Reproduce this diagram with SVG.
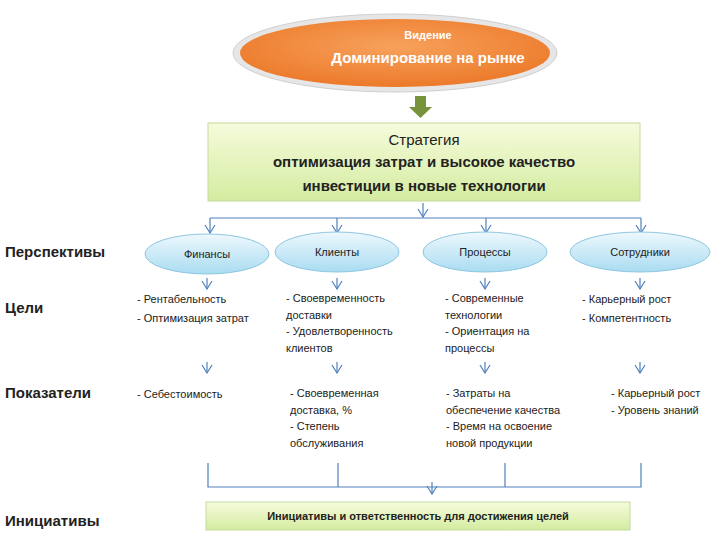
<svg xmlns="http://www.w3.org/2000/svg" width="720" height="540" viewBox="0 0 720 540">
<defs>
<radialGradient id="og" cx="50%" cy="40%" r="60%"><stop offset="0" stop-color="#f7a15c"/><stop offset="1" stop-color="#ec7a2a"/></radialGradient>
<linearGradient id="gg" x1="0" y1="0" x2="0" y2="1"><stop offset="0" stop-color="#f6fbdc"/><stop offset="1" stop-color="#d4eca0"/></linearGradient>
<linearGradient id="bg" x1="0" y1="0" x2="0" y2="1"><stop offset="0" stop-color="#eef8fd"/><stop offset="1" stop-color="#a9dcf1"/></linearGradient>
<marker id="ar" viewBox="0 0 10 12" refX="9" refY="6" markerWidth="10" markerHeight="12" markerUnits="userSpaceOnUse" orient="auto"><path d="M1,1 L9,6 L1,11" fill="none" stroke="#4f81bd" stroke-width="1.2"/></marker>
<style>
.t{font-family:"Liberation Sans",Arial,sans-serif;fill:#222}
.s{font-size:11px}
.h{font-size:15px;font-weight:bold}
.c{stroke:#4f81bd;stroke-width:1.2;fill:none}
.cm{stroke:#4f81bd;stroke-width:1.2;fill:none;marker-end:url(#ar)}
.el{fill:url(#bg);stroke:#8fc6e0;stroke-width:1}
</style>
</defs>
<g id="vision">
<ellipse cx="395" cy="53" rx="162" ry="39" fill="#e6e6e6" stroke="#cfcfcf"/>
<ellipse cx="395" cy="53" rx="155" ry="34" fill="url(#og)"/>
<text class="t" x="428" y="39" text-anchor="middle" font-size="11" font-weight="bold" style="fill:#fff">Видение</text>
<text class="t" x="428" y="63" text-anchor="middle" font-size="15" font-weight="bold" style="fill:#fff">Доминирование на рынке</text>
</g>
<g id="bigarrow"><path d="M415,96 H426 V107 H432 L420.5,118 L409,107 H415 Z" fill="#77933c"/></g>
<g id="strategy">
<rect x="208" y="123" width="432" height="78" fill="url(#gg)" stroke="#c6d9a0"/>
<text class="t" x="424" y="145" text-anchor="middle" font-size="15">Стратегия</text>
<text class="t" x="424" y="167" text-anchor="middle" font-size="15" font-weight="bold">оптимизация затрат и высокое качество</text>
<text class="t" x="424" y="191" text-anchor="middle" font-size="15" font-weight="bold">инвестиции в новые технологии</text>
</g>
<g id="labels">
<text class="t h" x="5" y="257">Перспективы</text>
<text class="t h" x="5" y="313">Цели</text>
<text class="t h" x="5" y="398">Показатели</text>
<text class="t h" x="5" y="526">Инициативы</text>
</g>
<g id="connectors">
<path class="cm" d="M423,203 V217"/>
<path class="c" d="M210,218 H641"/>
<path class="cm" d="M210,218 V233"/>
<path class="cm" d="M337,218 V233"/>
<path class="cm" d="M486,218 V233"/>
<path class="cm" d="M641,218 V233"/>
<path class="cm" d="M207,278 V289"/><path class="cm" d="M337,278 V289"/><path class="cm" d="M485,278 V289"/><path class="cm" d="M640,278 V289"/>
<path class="cm" d="M207,362 V373"/><path class="cm" d="M337,362 V373"/><path class="cm" d="M485,362 V373"/><path class="cm" d="M640,362 V373"/>
<path class="c" d="M208,463 V487 H641 V463 M338,463 V487 M505,463 V487"/>
<path class="cm" d="M432,482 V494"/>
</g>
<g id="finance"><ellipse class="el" cx="207" cy="254" rx="62" ry="20"/><text class="t s" x="207" y="258" text-anchor="middle">Финансы</text></g>
<g id="clients"><ellipse class="el" cx="337" cy="252" rx="62" ry="20"/><text class="t s" x="337" y="256" text-anchor="middle">Клиенты</text></g>
<g id="processes"><ellipse class="el" cx="485" cy="252" rx="62" ry="20"/><text class="t s" x="485" y="256" text-anchor="middle">Процессы</text></g>
<g id="staff"><ellipse class="el" cx="640" cy="252" rx="70" ry="20"/><text class="t s" x="640" y="256" text-anchor="middle">Сотрудники</text></g>
<g id="goals">
<text class="t s" x="137" y="303">- Рентабельность</text>
<text class="t s" x="137" y="322">- Оптимизация затрат</text>
<text class="t s" x="286" y="302">- Своевременность</text>
<text class="t s" x="286" y="319">доставки</text>
<text class="t s" x="286" y="335">- Удовлетворенность</text>
<text class="t s" x="286" y="352">клиентов</text>
<text class="t s" x="445" y="302">- Современные</text>
<text class="t s" x="445" y="319">технологии</text>
<text class="t s" x="445" y="335">- Ориентация на</text>
<text class="t s" x="445" y="352">процессы</text>
<text class="t s" x="582" y="303">- Карьерный рост</text>
<text class="t s" x="582" y="322">- Компетентность</text>
</g>
<g id="indicators">
<text class="t s" x="137" y="398">- Себестоимость</text>
<text class="t s" x="290" y="397">- Своевременная</text>
<text class="t s" x="290" y="414">доставка, %</text>
<text class="t s" x="290" y="430">- Степень</text>
<text class="t s" x="290" y="447">обслуживания</text>
<text class="t s" x="446" y="397">- Затраты на</text>
<text class="t s" x="446" y="414">обеспечение качества</text>
<text class="t s" x="446" y="430">- Время на освоение</text>
<text class="t s" x="446" y="447">новой продукции</text>
<text class="t s" x="611" y="397">- Карьерный рост</text>
<text class="t s" x="611" y="414">- Уровень знаний</text>
</g>
<g id="initiatives">
<rect x="206" y="502" width="424" height="28" fill="url(#gg)" stroke="#c6d9a0"/>
<text class="t s" x="418" y="520" text-anchor="middle" font-weight="bold">Инициативы и ответственность для достижения целей</text>
</g>
</svg>
